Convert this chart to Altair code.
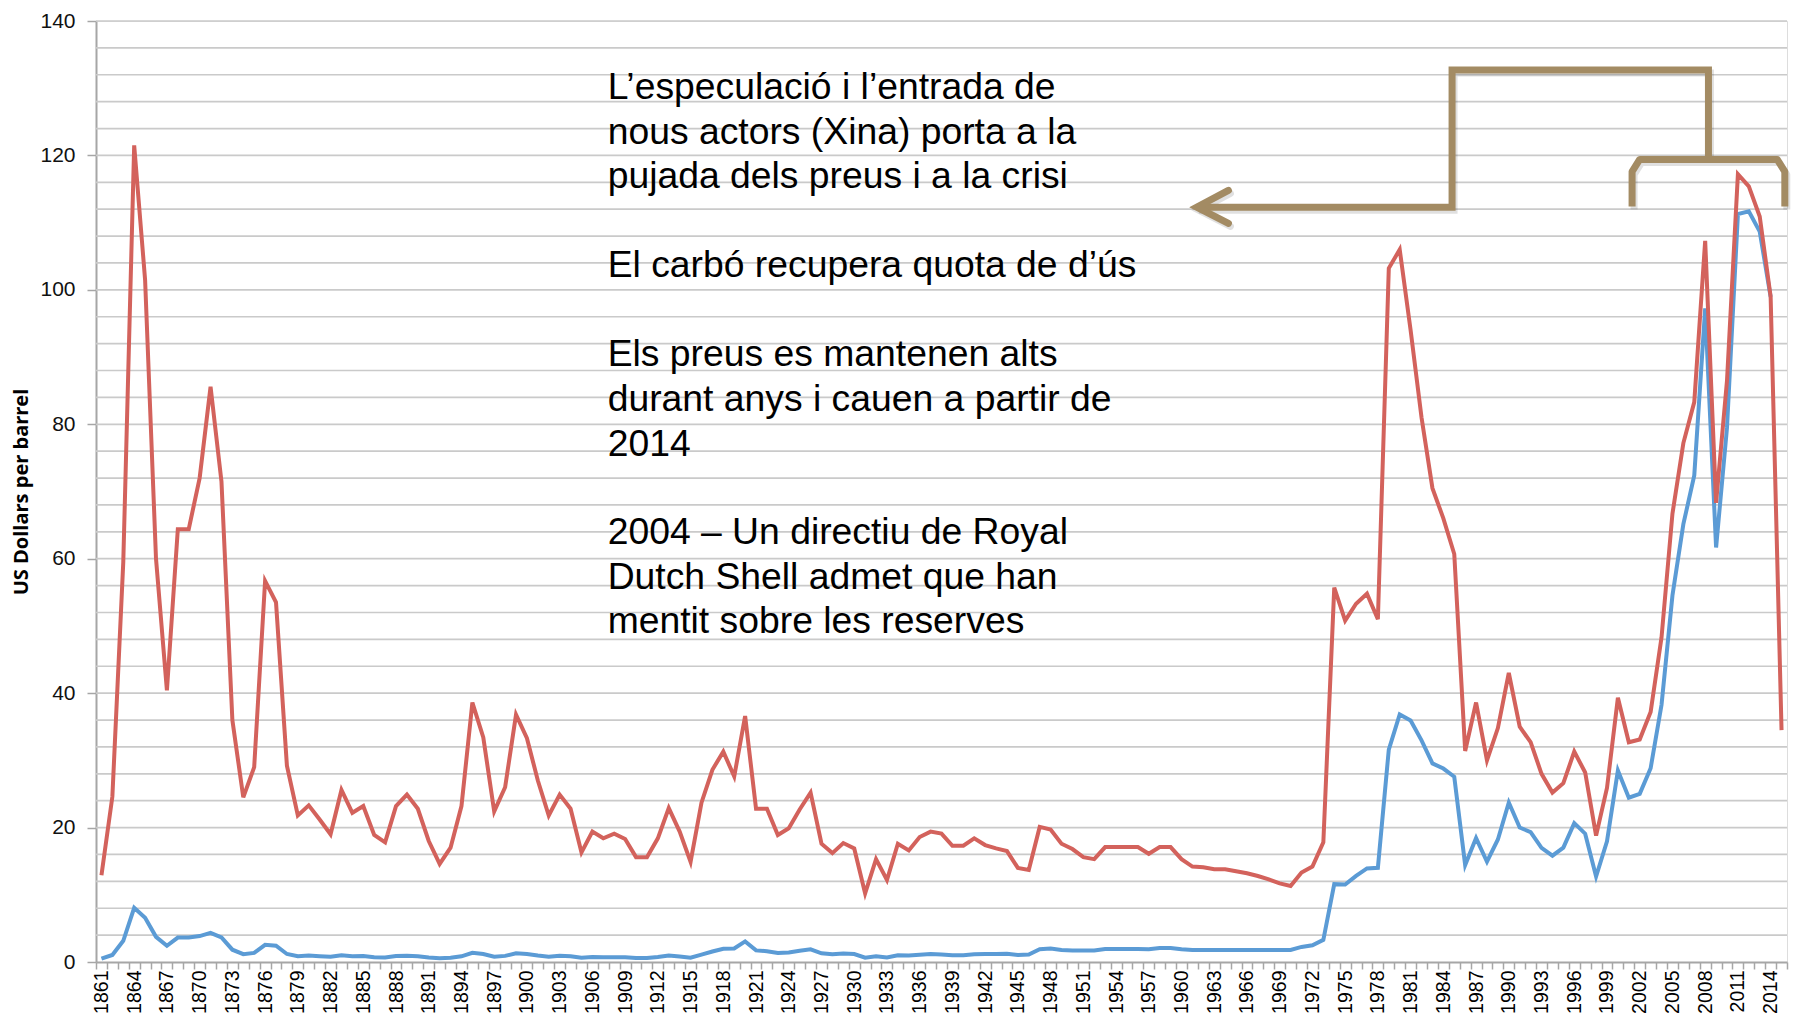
import altair as alt
import pandas as pd

# ---------------- data ----------------
years = list(range(1861, 2016))

# money of the day (blue) 1861-2014
nominal_price = [
    0.49, 1.05, 3.15, 8.06, 6.59, 3.74, 2.41, 3.63, 3.64, 3.86,          # 1861-1870
    4.34, 3.64, 1.83, 1.17, 1.35, 2.56, 2.42, 1.19, 0.86, 0.95,          # 1871-1880
    0.86, 0.78, 1.00, 0.84, 0.88, 0.71, 0.67, 0.88, 0.94, 0.87,          # 1881-1890
    0.67, 0.56, 0.64, 0.84, 1.36, 1.18, 0.79, 0.91, 1.29, 1.19,          # 1891-1900
    0.96, 0.80, 0.94, 0.86, 0.62, 0.73, 0.72, 0.72, 0.70, 0.61,          # 1901-1910
    0.61, 0.74, 0.95, 0.81, 0.64, 1.10, 1.56, 1.98, 2.01, 3.07,          # 1911-1920
    1.73, 1.61, 1.34, 1.43, 1.68, 1.88, 1.30, 1.17, 1.27, 1.19,          # 1921-1930
    0.65, 0.87, 0.67, 1.00, 0.97, 1.09, 1.18, 1.13, 1.02, 1.02,          # 1931-1940
    1.14, 1.19, 1.20, 1.21, 1.05, 1.12, 1.90, 1.99, 1.78, 1.71,          # 1941-1950
    1.71, 1.71, 1.93, 1.93, 1.93, 1.93, 1.90, 2.08, 2.08, 1.90,          # 1951-1960
    1.80, 1.80, 1.80, 1.80, 1.80, 1.80, 1.80, 1.80, 1.80, 1.80,          # 1961-1970
    2.24, 2.48, 3.29, 11.58, 11.53, 12.80, 13.92, 14.02, 31.61, 36.83,   # 1971-1980
    35.93, 32.97, 29.55, 28.78, 27.56, 14.43, 18.44, 14.92, 18.23, 23.73,  # 1981-1990
    20.00, 19.32, 16.97, 15.82, 17.02, 20.67, 19.09, 12.72, 17.97, 28.50,  # 1991-2000
    24.44, 25.02, 28.83, 38.27, 54.52, 65.14, 72.39, 97.26, 61.67, 79.50,  # 2001-2010
    111.26, 111.67, 108.66, 98.95,                                        # 2011-2014
]

# constant dollars (red) 1861-2015
real_price = [
    12.9, 24.6, 59.5, 121.5, 101.5, 60.0, 40.4, 64.4, 64.4, 72.0,        # 1861-1870
    85.6, 71.5, 36.0, 24.5, 29.0, 56.7, 53.5, 29.2, 21.8, 23.3,          # 1871-1880
    21.2, 19.0, 25.6, 22.2, 23.2, 18.9, 17.8, 23.2, 24.9, 22.8,          # 1881-1890
    18.0, 14.6, 17.0, 23.2, 38.6, 33.4, 22.4, 26.0, 36.8, 33.3,          # 1891-1900
    27.0, 21.8, 24.9, 22.8, 16.3, 19.4, 18.4, 19.1, 18.3, 15.6,          # 1901-1910
    15.6, 18.4, 22.9, 19.4, 14.9, 23.7, 28.6, 31.3, 27.6, 36.6,          # 1911-1920
    22.8, 22.8, 18.9, 19.9, 22.7, 25.2, 17.6, 16.2, 17.7, 16.9,          # 1921-1930
    10.2, 15.3, 12.2, 17.6, 16.6, 18.6, 19.4, 19.1, 17.3, 17.3,          # 1931-1940
    18.4, 17.4, 16.9, 16.5, 14.0, 13.7, 20.1, 19.7, 17.6, 16.8,          # 1941-1950
    15.6, 15.3, 17.1, 17.1, 17.1, 17.1, 16.1, 17.1, 17.1, 15.3,          # 1951-1960
    14.2, 14.1, 13.8, 13.8, 13.5, 13.2, 12.8, 12.3, 11.7, 11.3,          # 1961-1970
    13.3, 14.2, 17.8, 55.7, 50.8, 53.3, 54.8, 51.0, 103.2, 106.0,        # 1971-1980
    94.0, 81.0, 70.5, 66.0, 60.7, 31.4, 38.6, 30.0, 34.8, 43.0,          # 1981-1990
    35.0, 32.7, 28.0, 25.2, 26.6, 31.3, 28.2, 18.8, 25.9, 39.3,          # 1991-2000
    32.7, 33.1, 37.2, 48.3, 66.7, 77.2, 83.3, 107.3, 68.3, 86.5,         # 2001-2010
    117.2, 115.4, 110.9, 99.0, 34.5,                                     # 2011-2015
]

label_years = years[::3]
y_ticks = [0, 20, 40, 60, 80, 100, 120, 140]
grid_values = [4, 8, 12, 16, 20, 24, 28, 32, 36, 40, 44, 48, 52, 56, 60, 64, 68,
               72, 76, 80, 84, 88, 92, 96, 100, 104, 108, 112, 116, 120, 124, 128,
               132, 136, 140]

# annotation paragraphs (one text mark each)
note_paragraphs = [
    "L\u2019especulació i l\u2019entrada de\nnous actors (Xina) porta a la\npujada dels preus i a la crisi",
    "El carbó recupera quota de d\u2019ús",
    "Els preus es mantenen alts\ndurant anys i cauen a partir de\n2014",
    "2004 \u2013 Un directiu de Royal\nDutch Shell admet que han\nmentit sobre les reserves",
]
note_year = [1907.4, 1907.4, 1907.4, 1907.4]
note_value = [128.4, 101.9, 88.6, 62.2]

# annotation connector (in year / price units)
conn_year = [1961.4, 1984.8, 1984.8, 2008.3, 2008.3]
conn_value = [112.3, 112.3, 132.7, 132.7, 119.4]
head_year = [1964.3, 1961.4, 1964.3]
head_value = [114.8, 112.3, 109.9]
brace_year = [2001.3, 2001.3, 2002.0, 2014.6, 2015.3, 2015.3]
brace_value = [112.4, 117.6, 119.4, 119.4, 117.6, 112.4]

BLUE = "#5B9BD5"
RED = "#D3625C"
BROWN = "#A38B63"
AXIS_GRAY = "#A6A6A6"
GRID_GRAY = "#CACACA"

W, H = 1691, 941

# ---------------- scales / axes ----------------
yscale = alt.Scale(domain=[0, 140], nice=False, zero=True)
xscale = alt.Scale(type="band", domain=years, paddingInner=0, paddingOuter=0)
ascale = alt.Scale(domain=[years[0] - 0.5, years[-1] + 0.5], nice=False, zero=False)

yaxis = alt.Axis(
    values=y_ticks, grid=False,
    title="US Dollars per barrel", titleFont="Open Sans", titleFontWeight="bold",
    titleFontSize=20, titleColor="#000000", titleX=-75, titleBaseline="middle",
    labelFont="Liberation Sans", labelFontSize=21, labelColor="#111111", labelPadding=12,
    tickSize=9, tickColor=AXIS_GRAY, tickWidth=1.5,
    domainColor=AXIS_GRAY, domainWidth=2,
)
xaxis = alt.Axis(
    title=None, grid=False, labelAngle=-90, labelFont="Liberation Sans",
    labelFontSize=19.5, labelColor="#000000", labelPadding=1, labelOverlap=False,
    labelExpr=f"indexof({label_years}, datum.value) >= 0 ? datum.label : ''",
    tickBand="extent", tickSize=7, tickColor=AXIS_GRAY, tickWidth=1.5,
    domainColor=AXIS_GRAY, domainWidth=2,
)

# ---------------- layers ----------------
grid = alt.Chart(pd.DataFrame({"g": grid_values})).mark_rule(
    color=GRID_GRAY, strokeWidth=1.7
).encode(y=alt.Y("g:Q", scale=yscale, axis=yaxis))

df_nom = pd.DataFrame({"year": years[:len(nominal_price)], "value": nominal_price})
df_real = pd.DataFrame({"year": years, "value": real_price})

blue_line = alt.Chart(df_nom).mark_line(color=BLUE, strokeWidth=4).encode(
    x=alt.X("year:O", scale=xscale, axis=xaxis),
    y=alt.Y("value:Q", scale=yscale, axis=yaxis),
)
red_line = alt.Chart(df_real).mark_line(color=RED, strokeWidth=4).encode(
    x=alt.X("year:O", scale=xscale, axis=xaxis),
    y=alt.Y("value:Q", scale=yscale, axis=yaxis),
)
lines = alt.layer(blue_line, red_line)


def path_layer(xs, ys, cap, join, color=BROWN, width=7, opacity=1.0, dx=0, dy=0):
    df = pd.DataFrame({"x": xs, "y": ys, "i": list(range(len(xs)))})
    kw = dict(color=color, strokeWidth=width, strokeCap=cap, strokeJoin=join, opacity=opacity)
    if dx or dy:
        kw["xOffset"] = dx
        kw["yOffset"] = dy
    return alt.Chart(df).mark_line(**kw).encode(
        x=alt.X("x:Q", scale=ascale, axis=None),
        y=alt.Y("y:Q", scale=yscale, axis=yaxis),
        order="i:Q",
    )


shadows = [
    path_layer(conn_year, conn_value, "butt", "miter", color="#000000", opacity=0.12, dx=2, dy=3),
    path_layer(head_year, head_value, "round", "miter", color="#000000", opacity=0.12, dx=2, dy=3),
    path_layer(brace_year, brace_value, "butt", "round", color="#000000", opacity=0.12, dx=2, dy=3),
]
arrows = [
    path_layer(conn_year, conn_value, "butt", "miter"),
    path_layer(head_year, head_value, "round", "miter"),
    path_layer(brace_year, brace_value, "butt", "round"),
]

note = alt.Chart(pd.DataFrame({"x": note_year, "y": note_value, "t": note_paragraphs})).mark_text(
    align="left", baseline="alphabetic", font="Liberation Sans", fontSize=37.3,
    lineHeight=44.6, lineBreak="\n", color="#000000",
).encode(
    x=alt.X("x:Q", scale=ascale, axis=None),
    y=alt.Y("y:Q", scale=yscale, axis=yaxis),
    text="t:N",
)

annot = alt.layer(note, *shadows, *arrows)

chart = alt.layer(grid, lines, annot).resolve_scale(x="independent").properties(
    width=W, height=H,
    autosize=alt.AutoSizeParams(type="none"),
    padding={"left": 88, "top": 13, "right": 5, "bottom": 53},
).configure_view(strokeWidth=0).configure(background="white")

chart.save("out.html", embed_options={"renderer": "svg", "actions": False})
